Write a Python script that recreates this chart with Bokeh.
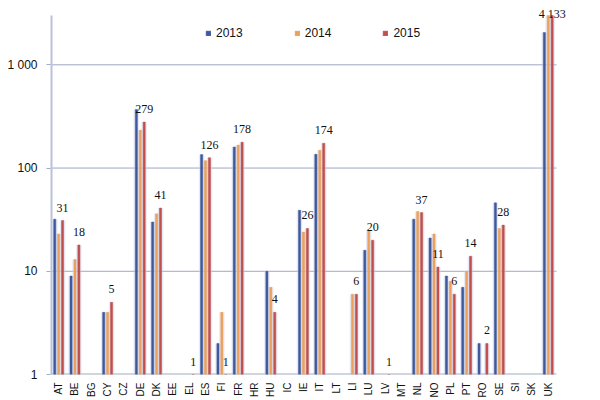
import numpy as np
from bokeh.plotting import figure
from bokeh.models import (ColumnDataSource, Range1d, FixedTicker,
                          LabelSet, Legend, LegendItem)
from bokeh.embed import file_html
from bokeh.resources import INLINE

nan = float("nan")
countries = ["AT", "BE", "BG", "CY", "CZ", "DE", "DK", "EE", "EL", "ES", "FI",
             "FR", "HR", "HU", "IC", "IE", "IT", "LT", "LI", "LU", "LV", "MT",
             "NL", "NO", "PL", "PT", "RO", "SE", "SI", "SK", "UK"]
v2013 = [32, 9, nan, 4, nan, 370, 30, nan, nan, 135, 2, 160, nan, 10, nan, 39,
         136, nan, nan, 16, nan, nan, 32, 21, 9, 7, 2, 46, nan, nan, 2060]
v2014 = [23, 13, nan, 4, nan, 233, 36, nan, nan, 118, 4, 167, nan, 7, nan, 24,
         149, nan, 6, 25, nan, nan, 38, 23, 8, 10, nan, 26, nan, nan, 3800]
v2015 = [31, 18, nan, 5, nan, 279, 41, nan, 1, 126, 1, 178, nan, 4, nan, 26,
         174, nan, 6, 20, 1, nan, 37, 11, 6, 14, 2, 28, nan, nan, 4133]
series = ["2013", "2014", "2015"]
colors = ["#3f5a9c", "#eba15c", "#c0504d"]
y_ticks = [1, 10, 100, 1000]
y_tick_labels = {1: "1", 10: "10", 100: "100", 1000: "1 000"}
Y_AXIS_MAX = 3000          # value axis maximum (bars above it are cut)

FONT = "Liberation Sans"
PX_PER_DECADE = 103.5
FRAME_H = 375
FRAME_W = 530
PX_PER_CAT = 16.32

n = len(countries)
xpos = np.arange(1, n + 1)
src = ColumnDataSource(dict(
    x=xpos,
    s2013=np.minimum(np.array(v2013, float), Y_AXIS_MAX),
    s2014=np.minimum(np.array(v2014, float), Y_AXIS_MAX),
    s2015=np.minimum(np.array(v2015, float), Y_AXIS_MAX)))

y_end = 10 ** (FRAME_H / PX_PER_DECADE)
x_end = 0.5 + FRAME_W / PX_PER_CAT
p = figure(width=600, height=400, x_range=Range1d(0.5, x_end),
           y_range=Range1d(1, y_end), y_axis_type="log",
           output_backend="svg", toolbar_location=None,
           min_border_left=50, min_border_right=600 - 50 - FRAME_W,
           min_border_top=0, min_border_bottom=25)
p.outline_line_color = None
p.background_fill_color = "white"
p.xgrid.grid_line_color = None
p.ygrid.grid_line_color = None

# gridlines and axis lines limited to the category area
x_left, x_right = 0.5, n + 0.5
grid_y = [t for t in y_ticks if t > 1]
p.segment(x0=[x_left] * len(grid_y), x1=[x_right] * len(grid_y), y0=grid_y,
          y1=grid_y, line_color="#9ea7c4", line_width=1)
p.segment(x0=[x_left], x1=[x_left], y0=[1], y1=[Y_AXIS_MAX],
          line_color="#b9c1dc", line_width=4)
p.segment(x0=[x_left], x1=[x_right], y0=[1], y1=[1],
          line_color="#a3abc6", line_width=2)

offsets = [-0.24, 0.0, 0.24]
renderers = []
for s, off in zip(series, offsets):
    p.vbar(x=xpos + off, top=src.data["s" + s], bottom=1, width=0.34,
           fill_color="#cdd3ee", fill_alpha=0.45, line_color=None)
for s, col, off in zip(series, colors, offsets):
    r = p.vbar(x=xpos + off, top=src.data["s" + s], bottom=1,
               width=0.13, fill_color=col, line_color=col, line_width=0.5)
    renderers.append(r)

# value labels (2015)
lab_x, lab_y, lab_t, lab_off = [], [], [], []
for xx, v in zip(xpos, v2015):
    if not np.isnan(v):
        lab_x.append(xx + 0.24)
        lab_y.append(min(v, Y_AXIS_MAX))
        lab_t.append(f"{int(v):,}".replace(",", " "))
        lab_off.append(13 if v < Y_AXIS_MAX else 2)
lsrc = ColumnDataSource(dict(x=lab_x, y=lab_y, t=lab_t, off=lab_off))
labels = LabelSet(x="x", y="y", text="t", y_offset="off", source=lsrc,
                  text_align="center", text_baseline="middle",
                  text_font_size="12px", text_font=FONT, text_color="#111111")
p.add_layout(labels)

# axes
p.yaxis.ticker = FixedTicker(ticks=y_ticks)
p.yaxis.major_label_overrides = y_tick_labels
p.yaxis.minor_tick_line_color = None
p.yaxis.major_tick_out = 4
p.yaxis.major_tick_in = 0
p.yaxis.major_tick_line_color = "#a3abc6"
p.yaxis.axis_line_color = None
p.yaxis.major_label_text_font = FONT
p.yaxis.major_label_text_font_size = "12px"
p.yaxis.major_label_text_color = "#111111"
p.yaxis.major_label_standoff = 9

p.xaxis.ticker = FixedTicker(ticks=list(xpos))
p.xaxis.major_label_overrides = {int(i): c for i, c in zip(xpos, countries)}
p.xaxis.major_label_orientation = np.pi / 2
p.xaxis.major_label_text_font = FONT
p.xaxis.major_label_text_font_size = "10px"
p.xaxis.major_label_text_color = "#111111"
p.xaxis.major_label_standoff = 2
p.xaxis.major_tick_line_color = None
p.xaxis.minor_tick_line_color = None
p.xaxis.axis_line_color = None

legend = Legend(items=[LegendItem(label=s, renderers=[r]) for s, r in zip(series, renderers)],
                orientation="horizontal", location=(155, 334),
                glyph_width=6, glyph_height=6, label_standoff=5, spacing=51,
                padding=0, margin=0, label_height=12,
                label_text_font=FONT, label_text_font_size="12px",
                label_text_color="#111111", border_line_color=None,
                background_fill_alpha=0)
p.add_layout(legend)

open("out.html", "w").write(file_html(p, INLINE))
